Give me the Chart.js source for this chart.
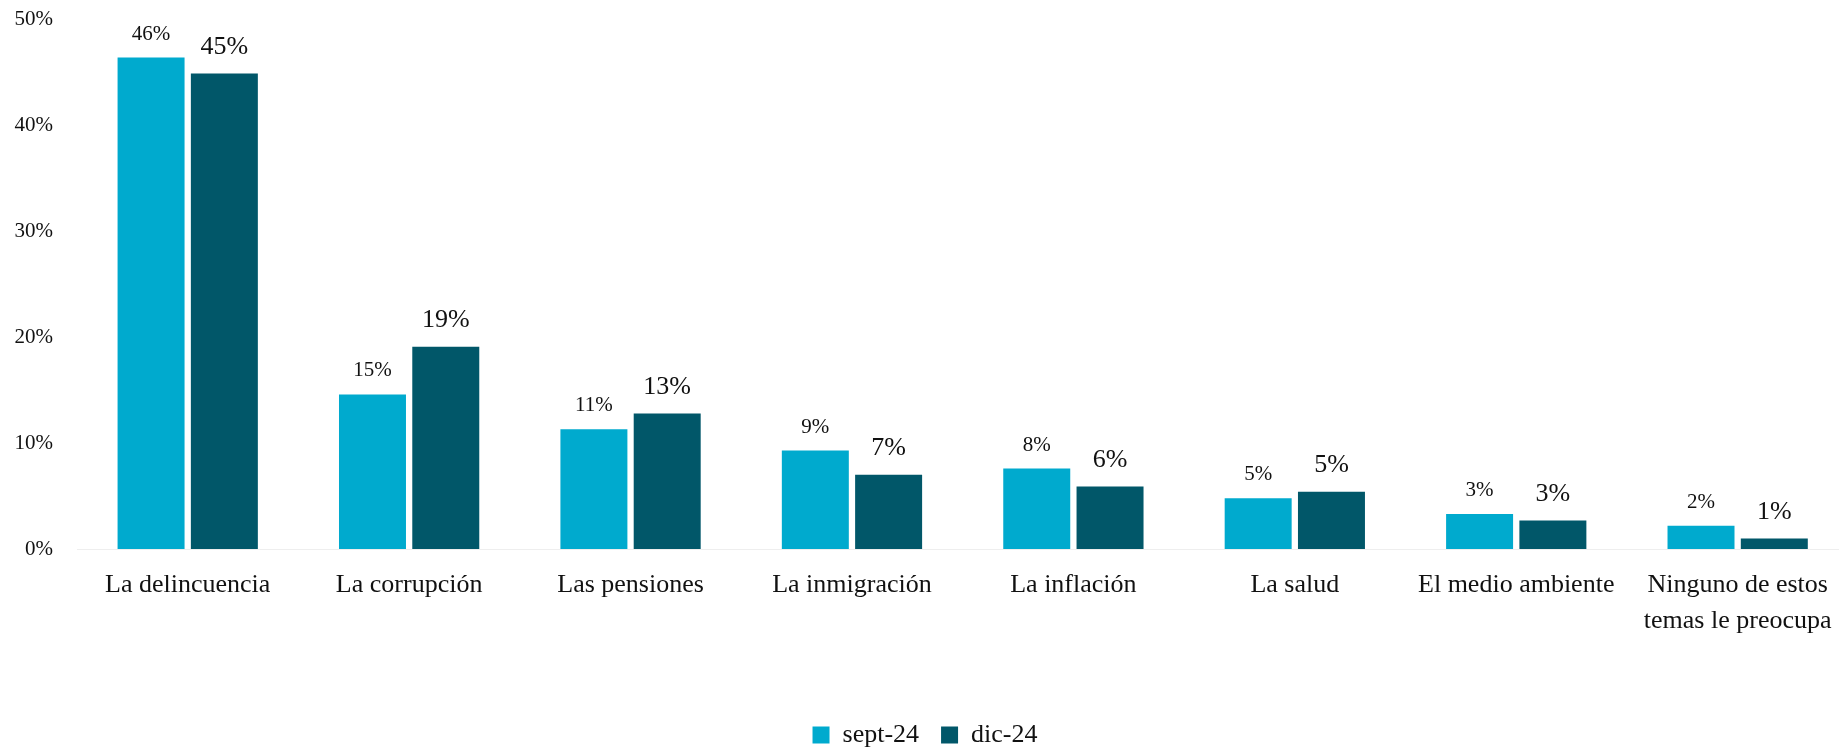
<!DOCTYPE html>
<html>
<head>
<meta charset="utf-8">
<script src="https://cdn.jsdelivr.net/npm/chart.js@4.4.1/dist/chart.umd.min.js"></script>
<style>
  html, body { margin: 0; padding: 0; background: #ffffff; overflow: hidden; }
  #wrap { position: relative; width: 1850px; height: 758px; }
</style>
</head>
<body>
<div id="wrap"><canvas id="c"></canvas></div>
<script>
const categories = [
  "La delincuencia",
  "La corrupción",
  "Las pensiones",
  "La inmigración",
  "La inflación",
  "La salud",
  "El medio ambiente",
  ["Ninguno de estos", "temas le preocupa"]
];
const seriesNames = ["sept-24", "dic-24"];
const sept24 = [46.4, 14.6, 11.3, 9.3, 7.6, 4.8, 3.3, 2.2];
const dic24 = [44.9, 19.1, 12.8, 7.0, 5.9, 5.4, 2.7, 1.0];
const yTicks = [0, 10, 20, 30, 40, 50];

const FONT = "'Liberation Serif', 'Times New Roman', serif";
const TEXT = "#111111";
const labelFonts = [21, 26];
const labelGaps = [18, 19.5];

const valueLabels = {
  id: "valueLabels",
  afterDatasetsDraw(chart) {
    const ctx = chart.ctx;
    ctx.save();
    ctx.fillStyle = TEXT;
    ctx.textAlign = "center";
    ctx.textBaseline = "alphabetic";
    chart.data.datasets.forEach((ds, di) => {
      const meta = chart.getDatasetMeta(di);
      ctx.font = labelFonts[di] + "px " + FONT;
      meta.data.forEach((el, i) => {
        const v = ds.data[i];
        ctx.fillText(Math.round(v) + "%", el.x, el.y - labelGaps[di]);
      });
    });
    ctx.restore();
  }
};

new Chart(document.getElementById("c"), {
  type: "bar",
  data: {
    labels: categories,
    datasets: [
      { label: seriesNames[0], data: sept24, backgroundColor: "#00AACE",
        categoryPercentage: 0.662, barPercentage: 0.914 },
      { label: seriesNames[1], data: dic24, backgroundColor: "#015769",
        categoryPercentage: 0.662, barPercentage: 0.914 }
    ]
  },
  options: {
    responsive: true,
    maintainAspectRatio: false,
    animation: false,
    layout: { padding: { top: 19.5, left: 0, right: 0, bottom: 0 } },
    plugins: {
      legend: {
        position: "bottom",
        labels: {
          boxWidth: 17, boxHeight: 17, padding: 22,
          color: TEXT,
          font: { family: FONT, size: 26 }
        }
      },
      tooltip: { enabled: false }
    },
    scales: {
      x: {
        grid: { display: false, drawTicks: false },
        border: { display: true, color: "#eeeeee", width: 1 },
        ticks: {
          color: TEXT, padding: 18.5, maxRotation: 0, autoSkip: false,
          font: { family: FONT, size: 26, lineHeight: 1.38 }
        },
        afterFit(scale) { scale.height = 151; }
      },
      y: {
        min: 0, max: 50,
        grid: { display: false, drawTicks: false },
        border: { display: false },
        afterBuildTicks(scale) { scale.ticks = yTicks.map(v => ({ value: v })); },
        ticks: {
          color: TEXT, padding: 24,
          font: { family: FONT, size: 21 },
          callback: v => v + "%"
        },
        afterFit(scale) {
          scale.width = 77;
          scale.paddingTop = 0;
          scale.paddingBottom = 0;
        }
      }
    }
  },
  plugins: [valueLabels]
});
</script>
</body>
</html>
